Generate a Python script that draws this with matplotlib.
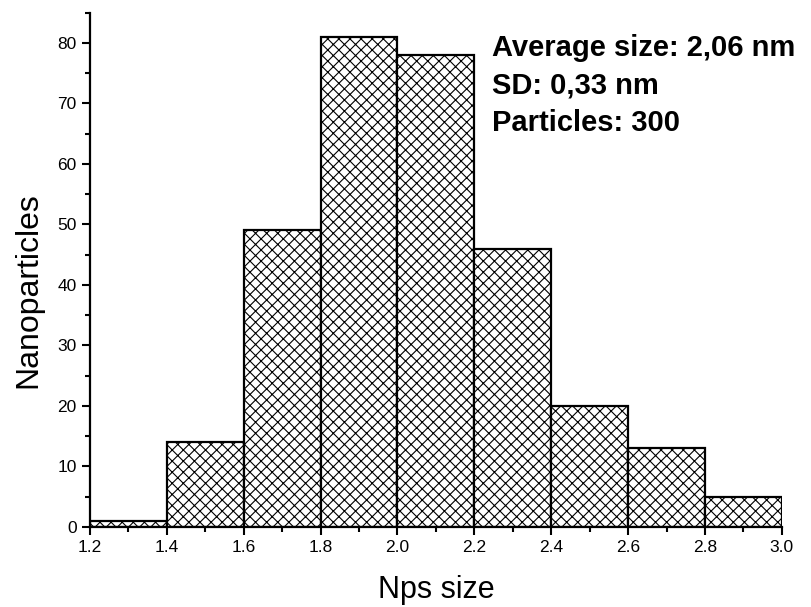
import matplotlib
matplotlib.use("Agg")
import matplotlib.pyplot as plt
from matplotlib.ticker import MultipleLocator

plt.rcParams['font.family'] = ['Liberation Sans', 'DejaVu Sans']
plt.rcParams['hatch.linewidth'] = 0.8

bin_edges = [1.2, 1.4, 1.6, 1.8, 2.0, 2.2, 2.4, 2.6, 2.8, 3.0]
counts = [1, 14, 49, 81, 78, 46, 20, 13, 5]
x_ticks = [1.2, 1.4, 1.6, 1.8, 2.0, 2.2, 2.4, 2.6, 2.8, 3.0]
y_ticks = [0, 10, 20, 30, 40, 50, 60, 70, 80]
stats_text = ["Average size: 2,06 nm", "SD: 0,33 nm", "Particles: 300"]

fig = plt.figure(figsize=(8.11, 6.07), dpi=100)
ax = fig.add_axes([0.111, 0.132, 0.853, 0.847])

lefts = bin_edges[:-1]
widths = [b - a for a, b in zip(bin_edges[:-1], bin_edges[1:])]
ax.bar(lefts, counts, width=widths, align='edge', facecolor='white',
       edgecolor='black', linewidth=1.6, hatch='xxx')

ax.set_xlim(1.2, 3.0)
ax.set_ylim(0, 85)
ax.set_xticks(x_ticks)
ax.set_xticklabels([f"{v:.1f}" for v in x_ticks])
ax.set_yticks(y_ticks)
ax.xaxis.set_minor_locator(MultipleLocator(0.1))
ax.yaxis.set_minor_locator(MultipleLocator(5))
ax.tick_params(which='major', direction='out', length=6, width=1.5, labelsize=12.5)
ax.tick_params(which='minor', direction='out', length=3.5, width=1.5)

for s in ['top', 'right']:
    ax.spines[s].set_visible(False)
for s in ['left', 'bottom']:
    ax.spines[s].set_linewidth(1.6)

ax.set_xlabel("Nps size", fontsize=22, labelpad=14)
ax.set_ylabel("Nanoparticles", fontsize=23)
ax.yaxis.set_label_coords(-0.067, 0.461)

ys = [0.916, 0.842, 0.770]
for t, yy in zip(stats_text, ys):
    ax.text(0.581, yy, t, transform=ax.transAxes, fontsize=21,
            fontweight='bold', va='baseline', ha='left')

fig.savefig("out.png", dpi=100)
